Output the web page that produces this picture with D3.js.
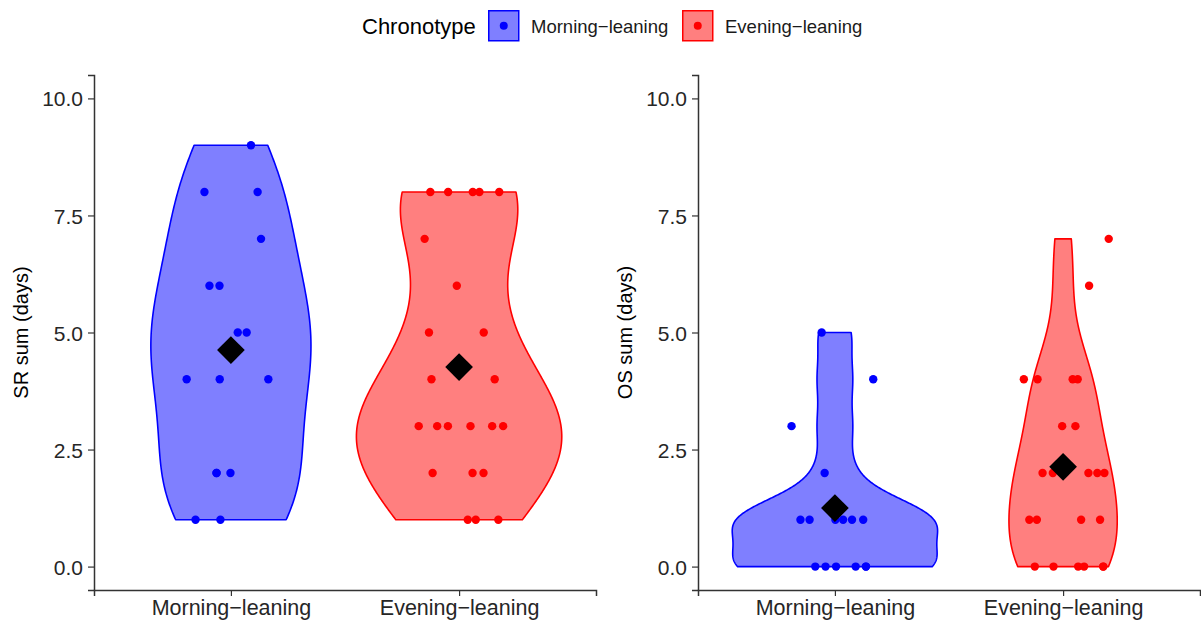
<!DOCTYPE html>
<html>
<head>
<meta charset="utf-8">
<script src="https://cdn.jsdelivr.net/npm/d3@7"></script>
<style>
  html, body { margin: 0; padding: 0; background: #fff; }
  svg { display: block; font-family: "Liberation Sans", Arial, Helvetica, sans-serif; }
</style>
</head>
<body>
<svg id="chart" width="1201" height="623"></svg>
<script>
// ---------- data ----------
const categories = ["Morning\u2212leaning", "Evening\u2212leaning"];
const legendTitle = "Chronotype";
const yTicks = [0, 2.5, 5, 7.5, 10];
const panelTitles = ["SR sum (days)", "OS sum (days)"];

// SR sum (left panel)
const srMorning       = [9, 8, 8, 7, 6, 6, 5, 5, 4, 4, 4, 2, 2, 2, 1, 1];
const srMorningJitter = [0.088, -0.116, 0.117, 0.132, -0.094, -0.05, 0.03, 0.069, -0.194, -0.049, 0.164, -0.063, -0.002, -0.063, -0.155, -0.046];
const srEvening       = [8, 8, 8, 8, 8, 7, 6, 5, 5, 4, 4, 3, 3, 3, 3, 3, 3, 2, 2, 2, 1, 1, 1];
const srEveningJitter = [-0.126, -0.048, 0.06, 0.089, 0.176, -0.151, -0.01, -0.132, 0.108, -0.121, 0.156, -0.177, -0.096, -0.049, 0.05, 0.145, 0.193, -0.116, 0.059, 0.107, 0.038, 0.073, 0.172];

// OS sum (right panel)
const osMorning       = [5, 4, 3, 2, 1, 1, 1, 1, 1, 1, 0, 0, 0, 0, 0, 0];
const osMorningJitter = [-0.058, 0.168, -0.19, -0.045, -0.151, -0.111, 0.002, 0.036, 0.075, 0.124, -0.086, -0.041, 0.005, 0.091, 0.136, 0.136];
const osEvening       = [7, 6, 4, 4, 4, 4, 3, 3, 2, 2, 2, 2, 2, 1, 1, 1, 1, 0, 0, 0, 0, 0, 0];
const osEveningJitter = [0.2, 0.114, -0.172, -0.112, 0.042, 0.064, -0.004, 0.054, -0.09, -0.045, 0.111, 0.15, 0.181, -0.148, -0.115, 0.079, 0.162, -0.124, -0.042, 0.066, 0.092, 0.176, 0.176];

const colors = ["#0000FF", "#FF0000"];

// ---------- layout ----------
const svg = d3.select("#chart");
svg.append("rect").attr("width", 1201).attr("height", 623).attr("fill", "#fff");

const panelTop = 75, panelBottom = 590;
const panels = [
  { x0: 94,  x1: 596, title: panelTitles[0], groups: [[srMorning, srMorningJitter], [srEvening, srEveningJitter]] },
  { x0: 698, x1: 1200, title: panelTitles[1], groups: [[osMorning, osMorningJitter], [osEvening, osEveningJitter]] }
];

function bwNrd0(x) {
  const s = x.slice().sort(d3.ascending);
  const hi = d3.deviation(s);
  const iqr = d3.quantileSorted(s, 0.75) - d3.quantileSorted(s, 0.25);
  let lo = Math.min(hi, iqr / 1.34);
  if (!lo) lo = hi || Math.abs(s[0]) || 1;
  return 0.9 * lo * Math.pow(s.length, -0.2);
}
function kde(x, n = 512) {
  const bw = bwNrd0(x);
  const lo = d3.min(x), hi = d3.max(x);
  const out = [];
  const c = 1 / (x.length * bw * Math.sqrt(2 * Math.PI));
  for (let i = 0; i < n; i++) {
    const y = lo + (hi - lo) * i / (n - 1);
    let s = 0;
    for (const v of x) { const z = (y - v) / bw; s += Math.exp(-0.5 * z * z); }
    out.push({ y, d: s * c });
  }
  return out;
}

const axisColor = "#333333";
const textColor = "#262626";

panels.forEach(p => {
  const g = svg.append("g");
  const y = d3.scaleLinear().domain([-0.5, 10.5]).range([panelBottom, panelTop]);
  const x = d3.scalePoint().domain(categories).range([p.x0, p.x1]).padding(0.6);
  const step = x.step();

  const dens = p.groups.map(gr => kde(gr[0]));
  const maxD = d3.max(dens, ds => d3.max(ds, e => e.d));
  const halfW = 0.45 * step;

  // violins
  dens.forEach((ds, i) => {
    const cx = x(categories[i]);
    const pts = ds.map(e => [cx - halfW * e.d / maxD, y(e.y)])
      .concat(ds.slice().reverse().map(e => [cx + halfW * e.d / maxD, y(e.y)]));
    g.append("path")
      .attr("d", d3.line()(pts) + "Z")
      .attr("fill", colors[i]).attr("fill-opacity", 0.5)
      .attr("stroke", colors[i]).attr("stroke-width", 1.6)
      .attr("stroke-linejoin", "round");
  });

  // points
  p.groups.forEach((gr, i) => {
    const cx = x(categories[i]);
    g.selectAll(null).data(gr[0]).enter().append("circle")
      .attr("cx", (d, k) => cx + gr[1][k] * step)
      .attr("cy", d => y(d))
      .attr("r", 4.2)
      .attr("fill", colors[i]);
  });

  // mean diamonds
  p.groups.forEach((gr, i) => {
    const cx = x(categories[i]);
    const m = d3.mean(gr[0]);
    g.append("path")
      .attr("d", d3.symbol(d3.symbolSquare, 19.6 * 19.6)())
      .attr("transform", `translate(${cx},${y(m)}) rotate(45)`)
      .attr("fill", "#000");
  });

  // axes
  const ya = g.append("g").attr("transform", `translate(${p.x0},0)`)
    .call(d3.axisLeft(y).tickValues(yTicks).tickFormat(d3.format(".1f")).tickSizeOuter(0).tickSize(6).tickPadding(5));
  const xa = g.append("g").attr("transform", `translate(0,${panelBottom})`)
    .call(d3.axisBottom(x).tickSizeOuter(0).tickSize(6).tickPadding(4));
  [ya, xa].forEach(a => {
    a.select(".domain").attr("stroke", axisColor).attr("stroke-width", 1.5);
    a.selectAll(".tick line").attr("stroke", axisColor).attr("stroke-width", 1.2);
    a.selectAll(".tick text").attr("fill", textColor).attr("font-family", "Liberation Sans, Arial, sans-serif");
  });
  ya.selectAll(".tick text").attr("font-size", 21).attr("dy", "0.36em");
  xa.selectAll(".tick text").attr("font-size", 21.5).attr("dy", "0.71em");

  // y title
  g.append("text")
    .attr("transform", `translate(${p.x0 - 66},${(panelTop + panelBottom) / 2}) rotate(-90)`)
    .attr("text-anchor", "middle")
    .attr("font-size", 20)
    .attr("fill", "#000")
    .text(p.title);
});

// ---------- legend ----------
const lg = svg.append("g");
lg.append("text").attr("x", 362).attr("y", 34).attr("font-size", 22).attr("fill", "#000").text(legendTitle);
const keyX = [488, 682], labX = [531, 725];
categories.forEach((c, i) => {
  lg.append("rect").attr("x", keyX[i] + 0.75).attr("y", 10.75).attr("width", 30).attr("height", 30)
    .attr("fill", colors[i]).attr("fill-opacity", 0.5).attr("stroke", colors[i]).attr("stroke-width", 1.5);
  lg.append("circle").attr("cx", keyX[i] + 15.75).attr("cy", 25.75).attr("r", 4).attr("fill", colors[i]);
  lg.append("text").attr("x", labX[i]).attr("y", 32.5).attr("font-size", 18.5).attr("fill", "#1a1a1a").text(c);
});
</script>
</body>
</html>
